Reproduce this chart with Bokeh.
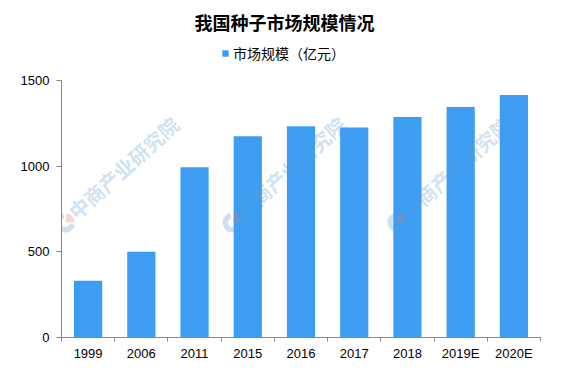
import math
from bokeh.plotting import figure
from bokeh.models import (Range1d, LinearAxis, FixedTicker, Label, Legend, LegendItem,
                          ColumnDataSource)
from bokeh.embed import file_html
from bokeh.resources import INLINE

# ---------------- data ----------------
categories = ["1999", "2006", "2011", "2015", "2016", "2017", "2018", "2019E", "2020E"]
market_size = [331, 500, 994, 1175, 1233, 1226, 1287, 1345, 1415]
y_ticks = [0, 500, 1000, 1500]
title_text = "我国种子市场规模情况"
series_name = "市场规模（亿元）"
watermark_text = "中商产业研究院"

# ---------------- layout ----------------
W, H = 552, 363
FL, FR, FT, FB = 61, 540, 80, 337          # axis box in picture pixels
N = len(categories)
YMAX = 1500
PX_PER_UNIT = (FB - FT) / YMAX
YTOP = FB / PX_PER_UNIT                     # data value at the picture's top edge

def dx(px):
    return (px - FL) / (FR - FL) * N

def dy(py):
    return (FB - py) / PX_PER_UNIT

BAR = "#3d9df3"
AXIS = "#888888"
CJK = "Noto Sans CJK SC"
NUM = "Liberation Sans"

# category slot centres on a 0..N numeric scale
slot = [i + 0.5 for i in range(N)]
src = ColumnDataSource(dict(x=slot, top=market_size, cat=categories))

p = figure(width=W, height=H,
           x_range=Range1d(0, N), y_range=Range1d(0, YTOP),
           x_axis_location=None,
           output_backend="svg", toolbar_location=None,
           min_border_left=FL, min_border_right=W - FR,
           min_border_top=0, min_border_bottom=H - FB)
p.outline_line_color = None
p.xgrid.visible = False
p.ygrid.visible = False
p.background_fill_color = "white"
p.border_fill_color = "white"

# watermark positions (logo centres, picture pixels)
logo_x = [65, 232, 397]
logo_y = [222]
lx, ly = [], []
for cx in logo_x:
    for cy in logo_y:
        lx.append(dx(cx))
        ly.append(dy(cy))

# bars
r = p.vbar(x="x", top="top", width=0.53, source=src, fill_color=BAR, line_color=None)

# watermark, semi-transparent over the bars
p.annular_wedge(x=lx, y=ly, inner_radius=4.5, outer_radius=10,
                inner_radius_units="screen", outer_radius_units="screen",
                start_angle=math.radians(105), end_angle=math.radians(345),
                fill_color="#5a9bd0", fill_alpha=0.3, line_color=None)
p.wedge(x=lx, y=ly, radius=9, radius_units="screen",
        start_angle=math.radians(5), end_angle=math.radians(85),
        fill_color="#e8785a", fill_alpha=0.3, line_color=None)
for cx in logo_x:
    for cy in logo_y:
        p.add_layout(Label(x=dx(cx + 6), y=dy(cy - 8), text=watermark_text,
                           angle=math.radians(42), text_align="left",
                           text_baseline="middle", text_font=CJK,
                           text_font_style="bold", text_font_size="20px",
                           text_color="#5a9bd0", text_alpha=0.3))

# title
p.add_layout(Label(x=dx(284), y=dy(21), text=title_text, text_align="center",
                   text_baseline="middle", text_font=CJK, text_font_style="bold",
                   text_font_size="18px", text_color="black"))

# y axis (line and ticks limited to 0..1500)
ya = p.yaxis[0]
ya.bounds = (0, YMAX)
ya.ticker = FixedTicker(ticks=y_ticks)
ya.axis_line_color = AXIS
ya.major_tick_line_color = AXIS
ya.major_tick_out = 5
ya.major_tick_in = 0
ya.minor_tick_line_color = None
ya.major_label_standoff = 7
ya.major_label_text_font = NUM
ya.major_label_text_font_size = "13px"
ya.major_label_text_color = "black"

# x axis: ticks between categories, labels at centres
xa = LinearAxis(ticker=FixedTicker(ticks=slot, minor_ticks=list(range(N + 1))),
                major_label_overrides={s: c for s, c in zip(slot, categories)})
xa.axis_line_color = AXIS
xa.major_tick_line_color = None
xa.major_tick_out = 0
xa.major_tick_in = 0
xa.minor_tick_line_color = AXIS
xa.minor_tick_out = 4
xa.minor_tick_in = 0
xa.major_label_standoff = 4
xa.major_label_text_font = NUM
xa.major_label_text_font_size = "13px"
xa.major_label_text_color = "black"
p.add_layout(xa, "below")

# legend inside the (tall) frame, under the title
legend = Legend(items=[LegendItem(label=series_name, renderers=[r])],
                location=(221 - FL, FB - 63), orientation="horizontal",
                glyph_width=8, glyph_height=8, label_standoff=4,
                padding=0, margin=0, spacing=0, label_height=16,
                border_line_color=None, background_fill_alpha=0,
                label_text_font=CJK, label_text_font_size="14px",
                label_text_color="black", label_text_baseline="middle")
p.add_layout(legend)

open("out.html", "w").write(file_html(p, INLINE))
